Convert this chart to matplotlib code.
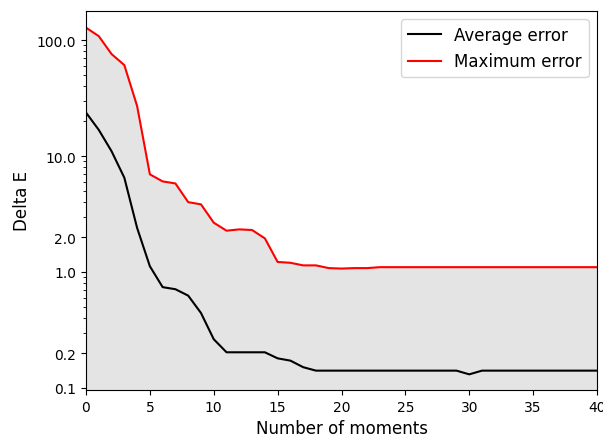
import matplotlib
matplotlib.use("Agg")
import matplotlib.pyplot as plt
from matplotlib.ticker import FixedLocator, FixedFormatter, LogLocator, NullFormatter

moments = list(range(0, 41))
average_error = [23.7, 16.8, 11.0, 6.5, 2.4, 1.12, 0.74, 0.71, 0.625, 0.443, 0.263,
                 0.203, 0.203, 0.203, 0.203, 0.18, 0.172, 0.151, 0.141, 0.141, 0.141,
                 0.141, 0.141, 0.141, 0.141, 0.141, 0.141, 0.141, 0.141, 0.141, 0.131,
                 0.141, 0.141, 0.141, 0.141, 0.141, 0.141, 0.141, 0.141, 0.141, 0.141]
maximum_error = [128, 108, 75.7, 60.8, 27.0, 6.95, 6.04, 5.8, 4.0, 3.83, 2.66,
                 2.27, 2.33, 2.3, 1.95, 1.22, 1.20, 1.14, 1.14, 1.08, 1.07,
                 1.08, 1.08, 1.10, 1.10, 1.10, 1.10, 1.10, 1.10, 1.10, 1.10,
                 1.10, 1.10, 1.10, 1.10, 1.10, 1.10, 1.10, 1.10, 1.10, 1.10]
ytick_values = [0.1, 0.2, 1.0, 2.0, 10.0, 100.0]
ytick_labels = ["0.1", "0.2", "1.0", "2.0", "10.0", "100.0"]

fig = plt.figure(figsize=(6.03, 4.39), dpi=100)
ax = fig.add_axes([86/603, 1 - 391/439, (597 - 86)/603, (391 - 12)/439])

ax.fill_between(moments, 0.01, maximum_error, color="#e4e4e4", linewidth=0)
ax.plot(moments, average_error, color="black", linewidth=1.5, label="Average error")
ax.plot(moments, maximum_error, color="red", linewidth=1.5, label="Maximum error")

ax.set_yscale("log")
ax.set_xlim(0, 40)
ax.set_ylim(0.096, 178)
ax.yaxis.set_major_locator(FixedLocator(ytick_values))
ax.yaxis.set_major_formatter(FixedFormatter(ytick_labels))
ax.yaxis.set_minor_locator(LogLocator(base=10, subs=range(2, 10), numticks=20))
ax.yaxis.set_minor_formatter(NullFormatter())
ax.set_xticks(range(0, 41, 5))
ax.tick_params(labelsize=10)

ax.set_xlabel("Number of moments", fontsize=12)
ax.set_ylabel("Delta E", fontsize=12)
ax.legend(loc="upper right", fontsize=12)

fig.savefig("out.png", dpi=100)
